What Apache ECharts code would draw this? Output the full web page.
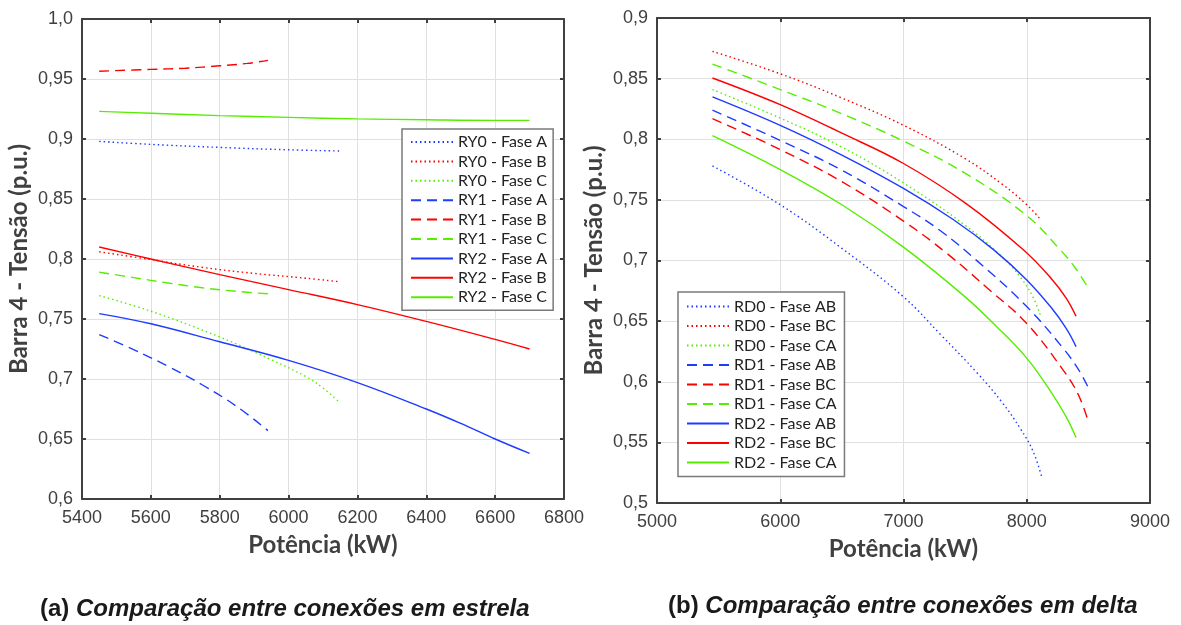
<!DOCTYPE html>
<html><head><meta charset="utf-8">
<script src="https://cdn.jsdelivr.net/npm/echarts@6/dist/echarts.min.js"></script>
<style>html,body{margin:0;padding:0;background:#fff}#c{width:1181px;height:625px}</style>
</head><body><div id="c"></div>
<script>
// ---- Data (a) estrela ----
const xTicksA = [5400, 6800, 200];
const yTicksA = [0.6, 1.0, 0.05];
const ry0A = [[5450,0.898],[5600,0.8955],[5800,0.893],[6000,0.891],[6150,0.890]];
const ry0B = [[5450,0.806],[5600,0.7995],[5750,0.793],[5900,0.788],[6050,0.784],[6150,0.781]];
const ry0C = [[5450,0.7695],[5600,0.7565],[5800,0.735],[5950,0.716],[6050,0.702],[6100,0.6925],[6150,0.680]];
const ry1A = [[5450,0.737],[5550,0.7245],[5650,0.7105],[5750,0.695],[5850,0.677],[5940,0.657]];
const ry1B = [[5450,0.9565],[5600,0.958],[5700,0.959],[5800,0.961],[5880,0.963],[5940,0.9655]];
const ry1C = [[5450,0.789],[5550,0.7845],[5650,0.780],[5750,0.776],[5850,0.773],[5940,0.771]];
const ry2A = [[5450,0.7545],[5600,0.746],[5800,0.731],[6000,0.7155],[6200,0.697],[6400,0.675],[6500,0.663],[6600,0.650],[6700,0.638]];
const ry2B = [[5450,0.810],[5600,0.800],[5800,0.787],[6000,0.7745],[6200,0.762],[6400,0.748],[6600,0.733],[6700,0.725]];
const ry2C = [[5450,0.923],[5600,0.9215],[5800,0.9195],[6000,0.918],[6200,0.9168],[6400,0.916],[6600,0.9155],[6700,0.9155]];
// ---- Data (b) delta ----
const xTicksB = [5000, 9000, 1000];
const yTicksB = [0.5, 0.9, 0.05];
const rd0AB = [[5450,0.778],[6000,0.746],[6500,0.710],[7000,0.670],[7300,0.639],[7600,0.607],[7800,0.583],[7950,0.561],[8050,0.543],[8120,0.522]];
const rd0BC = [[5450,0.8725],[6000,0.854],[6500,0.834],[7000,0.8115],[7500,0.784],[7800,0.763],[8000,0.746],[8110,0.734]];
const rd0CA = [[5450,0.841],[6000,0.8175],[6500,0.7935],[7000,0.764],[7500,0.729],[7800,0.703],[7950,0.686],[8050,0.670],[8110,0.655]];
const rd1AB = [[5450,0.824],[6000,0.799],[6500,0.7745],[7000,0.7445],[7300,0.7245],[7600,0.6995],[8000,0.662],[8300,0.627],[8420,0.610],[8500,0.595]];
const rd1BC = [[5450,0.817],[6000,0.7915],[6500,0.765],[7000,0.7325],[7350,0.706],[7700,0.6755],[8000,0.648],[8300,0.609],[8420,0.589],[8500,0.567]];
const rd1CA = [[5450,0.862],[6000,0.841],[6500,0.821],[7000,0.7985],[7500,0.772],[8000,0.737],[8270,0.709],[8400,0.693],[8500,0.677]];
const rd2AB = [[5450,0.835],[6000,0.8115],[6500,0.787],[7000,0.7595],[7400,0.734],[7730,0.709],[8000,0.684],[8200,0.661],[8320,0.644],[8400,0.629]];
const rd2BC = [[5450,0.8505],[6000,0.8285],[6500,0.805],[7000,0.780],[7500,0.7475],[7970,0.709],[8200,0.685],[8320,0.669],[8400,0.654]];
const rd2CA = [[5450,0.803],[6000,0.775],[6500,0.746],[7000,0.711],[7500,0.670],[7750,0.646],[8000,0.6195],[8200,0.591],[8320,0.571],[8400,0.554]];

const namesA = ['RY0 - Fase A','RY0 - Fase B','RY0 - Fase C','RY1 - Fase A','RY1 - Fase B','RY1 - Fase C','RY2 - Fase A','RY2 - Fase B','RY2 - Fase C'];
const namesB = ['RD0 - Fase AB','RD0 - Fase BC','RD0 - Fase CA','RD1 - Fase AB','RD1 - Fase BC','RD1 - Fase CA','RD2 - Fase AB','RD2 - Fase BC','RD2 - Fase CA'];
const dataA = [ry0A, ry0B, ry0C, ry1A, ry1B, ry1C, ry2A, ry2B, ry2C];
const dataB = [rd0AB, rd0BC, rd0CA, rd1AB, rd1BC, rd1CA, rd2AB, rd2BC, rd2CA];

const COLORS = ['#1e3cff', '#ff0000', '#55ee00'];
const DASH = [[1.5, 3], [10, 6], 'solid'];
const AX = '#404040';
const TICKFONT = 'Liberation Sans';

function yFmt(v) {
  const r = Math.round(v * 100) / 100;
  if (r === 1) return '1,0';
  return String(r).replace('.', ',');
}

function mkSeries(names, datas, xi, yi) {
  return names.map((n, i) => ({
    name: n, type: 'line', data: datas[i],
    xAxisIndex: xi, yAxisIndex: yi,
    symbol: 'none', showSymbol: false,
    smooth: 0.4,
    lineStyle: { color: COLORS[i % 3], width: 1.4, type: DASH[Math.floor(i / 3)] },
    itemStyle: { color: COLORS[i % 3] },
    animation: false
  }));
}

function xAx(grid, t, pos) {
  const bottom = pos === 'bottom';
  return {
    type: 'value', gridIndex: grid, position: pos, min: t[0], max: t[1], interval: t[2],
    name: bottom ? 'Potência (kW)' : '', nameLocation: 'middle', nameGap: 34,
    nameTextStyle: { fontFamily: 'Lato', fontWeight: 'bold', fontSize: 24, color: AX },
    axisLine: { show: true, lineStyle: { color: AX, width: 2 } },
    axisTick: { show: true, inside: true, length: 4, lineStyle: { color: AX, width: 2 } },
    axisLabel: { show: bottom, margin: 10, fontFamily: TICKFONT, fontSize: 18, color: AX, formatter: v => String(v) },
    splitLine: { show: bottom, lineStyle: { color: '#e0e0e0', width: 1 } }
  };
}
function yAx(grid, t, pos) {
  const left = pos === 'left';
  return {
    type: 'value', gridIndex: grid, position: pos, min: t[0], max: t[1], interval: t[2],
    name: left ? 'Barra 4 - Tensão (p.u.)' : '', nameLocation: 'middle', nameGap: 51,
    nameTextStyle: { fontFamily: 'Lato', fontWeight: 'bold', fontSize: 24, color: AX },
    axisLine: { show: true, lineStyle: { color: AX, width: 2 } },
    axisTick: { show: true, inside: true, length: 4, lineStyle: { color: AX, width: 2 } },
    axisLabel: { show: left, margin: 9, fontFamily: TICKFONT, fontSize: 18, color: AX, formatter: yFmt },
    splitLine: { show: left, lineStyle: { color: '#e0e0e0', width: 1 } }
  };
}
function legend(names, left, top, padding, gap) {
  return {
    data: names, orient: 'vertical', left: left, top: top, padding: padding,
    itemWidth: 42, itemHeight: 14, itemGap: gap,
    itemStyle: { opacity: 0 },
    backgroundColor: '#fff', borderColor: '#7a7a7a', borderWidth: 1.5, borderRadius: 0,
    textStyle: { fontFamily: 'Lato', fontSize: 16, lineHeight: 15, color: '#222' },
    selectedMode: false
  };
}

const capRich = {
  a: { fontFamily: 'Liberation Sans', fontWeight: 'bold', fontSize: 24, fill: '#1a1a1a' },
  b: { fontFamily: 'Liberation Sans', fontWeight: 'bold', fontStyle: 'italic', fontSize: 24, fill: '#1a1a1a' }
};

const chart = echarts.init(document.getElementById('c'), null, { renderer: 'canvas' });
chart.setOption({
  animation: false,
  backgroundColor: '#fff',
  grid: [
    { left: 82, top: 19, width: 482, height: 480, outerBoundsMode: 'none' },
    { left: 657, top: 18, width: 493, height: 485, outerBoundsMode: 'none' }
  ],
  xAxis: [xAx(0, xTicksA, 'bottom'), xAx(0, xTicksA, 'top'), xAx(1, xTicksB, 'bottom'), xAx(1, xTicksB, 'top')],
  yAxis: [yAx(0, yTicksA, 'left'), yAx(0, yTicksA, 'right'), yAx(1, yTicksB, 'left'), yAx(1, yTicksB, 'right')],
  legend: [legend(namesA, 402, 129, [5, 6, 5, 8], 3.4), legend(namesB, 678, 292, [6.5, 8, 6, 8], 3.5)],
  series: mkSeries(namesA, dataA, 0, 0).concat(mkSeries(namesB, dataB, 2, 2)),
  graphic: [
    { type: 'text', left: 40, top: 597, style: { text: '{a|(a)}{b| Comparação entre conexões em estrela}', rich: capRich } },
    { type: 'text', left: 668, top: 594, style: { text: '{a|(b)}{b| Comparação entre conexões em delta}', rich: capRich } }
  ]
});
</script></body></html>
